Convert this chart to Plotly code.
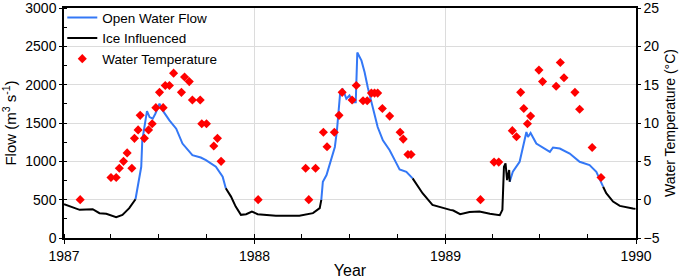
import plotly.graph_objects as go
from plotly.subplots import make_subplots

# Open water flow (m3/s) - blue segments, one per year
open_dates_1987 = ["1987-05-18", "1987-05-22", "1987-05-29", "1987-05-31", "1987-06-04", "1987-06-09",
                   "1987-06-14", "1987-06-20", "1987-06-25", "1987-07-03", "1987-07-09", "1987-07-22",
                   "1987-08-04", "1987-08-16", "1987-09-04", "1987-09-20", "1987-09-30", "1987-10-19",
                   "1987-11-01", "1987-11-07"]
open_flow_1987 = [506, 669, 929, 1275, 1447, 1655, 1577, 1556, 1621, 1751, 1664, 1534,
                  1426, 1232, 1080, 1050, 1016, 929, 799, 648]

open_dates_1988 = ["1988-05-08", "1988-05-11", "1988-05-18", "1988-05-24", "1988-06-03", "1988-06-07",
                   "1988-06-09", "1988-06-13", "1988-06-18", "1988-06-25", "1988-07-01", "1988-07-08",
                   "1988-07-13", "1988-07-16", "1988-07-24", "1988-07-30", "1988-08-05", "1988-08-15",
                   "1988-08-24", "1988-09-03", "1988-09-16", "1988-09-29", "1988-10-05", "1988-10-18",
                   "1988-10-30"]
open_flow_1988 = [497, 734, 821, 973, 1188, 1405, 1600, 1881, 1946, 1816, 1859, 1772,
                  1772, 2420, 2313, 2161, 1966, 1707, 1447, 1275, 1145, 973, 895, 864, 778]

open_dates_1989 = ["1989-05-04", "1989-05-10", "1989-05-23", "1989-05-30", "1989-06-05", "1989-06-08",
                   "1989-06-13", "1989-06-24", "1989-07-13", "1989-07-20", "1989-07-26", "1989-08-08",
                   "1989-08-27", "1989-09-15", "1989-10-04", "1989-10-17", "1989-10-30"]
open_flow_1989 = [734, 864, 994, 1188, 1383, 1318, 1370, 1232, 1154, 1123, 1180, 1167,
                  1102, 994, 951, 864, 669]

# Ice influenced flow (m3/s) - black segments
ice_dates_a = ["1987-01-01", "1987-01-31", "1987-02-25", "1987-03-10", "1987-03-23", "1987-04-11",
               "1987-04-23", "1987-05-06", "1987-05-18"]
ice_flow_a = [441, 367, 376, 324, 315, 272, 302, 389, 506]

ice_dates_b = ["1987-11-07", "1987-11-17", "1987-11-26", "1987-12-06", "1987-12-16", "1987-12-27",
               "1988-01-07", "1988-01-29", "1988-02-11", "1988-03-27", "1988-04-22", "1988-05-05",
               "1988-05-08"]
ice_flow_b = [648, 540, 410, 302, 311, 345, 311, 302, 289, 289, 324, 389, 497]

ice_dates_c = ["1988-10-30", "1988-11-18", "1988-12-07", "1988-12-27", "1989-01-10", "1989-01-16",
               "1989-01-29", "1989-02-16", "1989-03-07", "1989-03-27", "1989-04-15", "1989-04-20",
               "1989-04-23", "1989-04-26", "1989-04-29", "1989-05-03", "1989-05-04"]
ice_flow_c = [778, 584, 432, 389, 367, 358, 311, 340, 345, 315, 298, 367, 929, 973, 756, 886, 734]

ice_dates_d = ["1989-10-30", "1989-11-05", "1989-11-18", "1989-12-01", "1989-12-26", "1989-12-31"]
ice_flow_d = [669, 584, 475, 419, 384, 380]

# Water temperature (deg C)
temp_dates = ["1987-02-01", "1987-04-01", "1987-04-11", "1987-04-17", "1987-04-25", "1987-05-02",
              "1987-05-11", "1987-05-16", "1987-05-23", "1987-05-27", "1987-06-04", "1987-06-12",
              "1987-06-19", "1987-06-26", "1987-07-03", "1987-07-10", "1987-07-14", "1987-07-22",
              "1987-07-30", "1987-08-14", "1987-08-20", "1987-08-29", "1987-09-04", "1987-09-19",
              "1987-09-22", "1987-10-01", "1987-10-15", "1987-10-22", "1987-10-29",
              "1988-01-08", "1988-04-08", "1988-04-14", "1988-04-27", "1988-05-12", "1988-05-19",
              "1988-06-02", "1988-06-11", "1988-06-17", "1988-07-06", "1988-07-14", "1988-07-27",
              "1988-08-04", "1988-08-12", "1988-08-18", "1988-08-24", "1988-09-02", "1988-09-16",
              "1988-10-06", "1988-10-12", "1988-10-21", "1988-10-27",
              "1989-03-09", "1989-04-04", "1989-04-13", "1989-05-09", "1989-05-17", "1989-05-25",
              "1989-05-31", "1989-06-07", "1989-06-13", "1989-06-29", "1989-07-06", "1989-08-01",
              "1989-08-09", "1989-08-16", "1989-09-06", "1989-09-15", "1989-10-09", "1989-10-26"]
temp_values = [0.0, 2.9, 2.9, 4.1, 5.0, 6.1,
               4.1, 8.0, 9.1, 11.0, 8.0, 9.1,
               9.9, 12.0, 14.0, 12.0, 14.9, 14.9,
               16.5, 14.0, 16.0, 15.4, 13.0, 13.0,
               9.9, 9.9, 7.0, 8.0, 5.0,
               0.0, 4.1, 0.0, 4.1, 8.8, 6.9,
               8.8, 11.0, 14.0, 13.0, 14.9, 12.9,
               12.9, 13.9, 13.9, 13.9, 11.9, 10.9,
               8.8, 7.9, 5.9, 5.9,
               0.0, 4.9, 4.9, 9.0, 8.2, 14.0,
               11.9, 9.9, 10.9, 16.9, 15.4, 14.8,
               17.9, 15.9, 14.0, 11.8, 6.8, 2.9]

flow_ticks = [0, 500, 1000, 1500, 2000, 2500, 3000]
temp_ticks = [-5, 0, 5, 10, 15, 20, 25]
year_ticks = ["1987-01-01", "1988-01-01", "1989-01-01", "1990-01-01"]
year_labels = ["1987", "1988", "1989", "1990"]


def join_segments(*segs):
    xs, ys = [], []
    for i, (d, v) in enumerate(segs):
        if i > 0:
            xs.append(None)
            ys.append(None)
        xs.extend(d)
        ys.extend(v)
    return xs, ys


open_x, open_y = join_segments((open_dates_1987, open_flow_1987),
                               (open_dates_1988, open_flow_1988),
                               (open_dates_1989, open_flow_1989))
ice_x, ice_y = join_segments((ice_dates_a, ice_flow_a), (ice_dates_b, ice_flow_b),
                             (ice_dates_c, ice_flow_c), (ice_dates_d, ice_flow_d))

FONT = "Liberation Sans, Arial, sans-serif"

fig = make_subplots(specs=[[{"secondary_y": True}]])
fig.add_trace(go.Scatter(x=open_x, y=open_y, mode="lines", name="Open Water Flow",
                         line=dict(color="#3478f6", width=2), connectgaps=False),
              secondary_y=False)
fig.add_trace(go.Scatter(x=ice_x, y=ice_y, mode="lines", name="Ice Influenced",
                         line=dict(color="black", width=2), connectgaps=False),
              secondary_y=False)
fig.add_trace(go.Scatter(x=temp_dates, y=temp_values, mode="markers", name="Water Temperature",
                         marker=dict(symbol="diamond", size=7, color="#ff0000")),
              secondary_y=True)

fig.update_layout(
    width=685, height=280,
    margin=dict(l=64, r=49, t=8, b=42, autoexpand=False),
    paper_bgcolor="white", plot_bgcolor="white",
    font=dict(family=FONT, size=14, color="black"),
    showlegend=True,
    legend=dict(x=-0.003, y=1.025, xanchor="left", yanchor="top", bgcolor="rgba(255,255,255,0)",
                font=dict(size=13.5), tracegroupgap=0, itemwidth=30),
)

fig.update_xaxes(
    type="date", range=["1987-01-01", "1990-01-01"], automargin=False, domain=[0, 1],
    tickvals=year_ticks, ticktext=year_labels, ticklabeloverflow="allow",
    ticks="outside", ticklen=4, tickcolor="black",
    showgrid=True, gridcolor="#dcdcdc", gridwidth=1,
    showline=True, linecolor="black", linewidth=1.5, mirror=True,
    minor=dict(dtick="M3", tick0="1987-01-01", ticks="inside", ticklen=4, tickcolor="black", showgrid=False),
    title=dict(text="Year", font=dict(size=16), standoff=2),
    tickfont=dict(size=14), zeroline=False,
)

fig.update_yaxes(
    range=[0, 3000], tickvals=flow_ticks, automargin=False, ticklabeloverflow="allow",
    ticks="outside", ticklen=3, tickcolor="black",
    showgrid=True, gridcolor="#dcdcdc", gridwidth=1,
    showline=True, linecolor="black", linewidth=1.5, mirror=True,
    minor=dict(dtick=250, ticks="inside", ticklen=3, tickcolor="black", showgrid=False),
    title=dict(text="Flow (m<sup>3</sup> s<sup>-1</sup>)", font=dict(size=15), standoff=6),
    tickfont=dict(size=14), zeroline=False,
    secondary_y=False,
)

fig.update_yaxes(
    range=[-5, 25], tickvals=temp_ticks, automargin=False, ticklabeloverflow="allow",
    ticks="outside", ticklen=3, tickcolor="black",
    showgrid=False, showline=True, linecolor="black", linewidth=1.5,
    title=dict(text="Water Temperature (°C)", font=dict(size=14), standoff=6),
    tickfont=dict(size=14), zeroline=False,
    secondary_y=True,
)

fig.write_html("out.html", config={"displayModeBar": False},
               post_script="document.body.style.margin='0';document.body.style.padding='0';")
